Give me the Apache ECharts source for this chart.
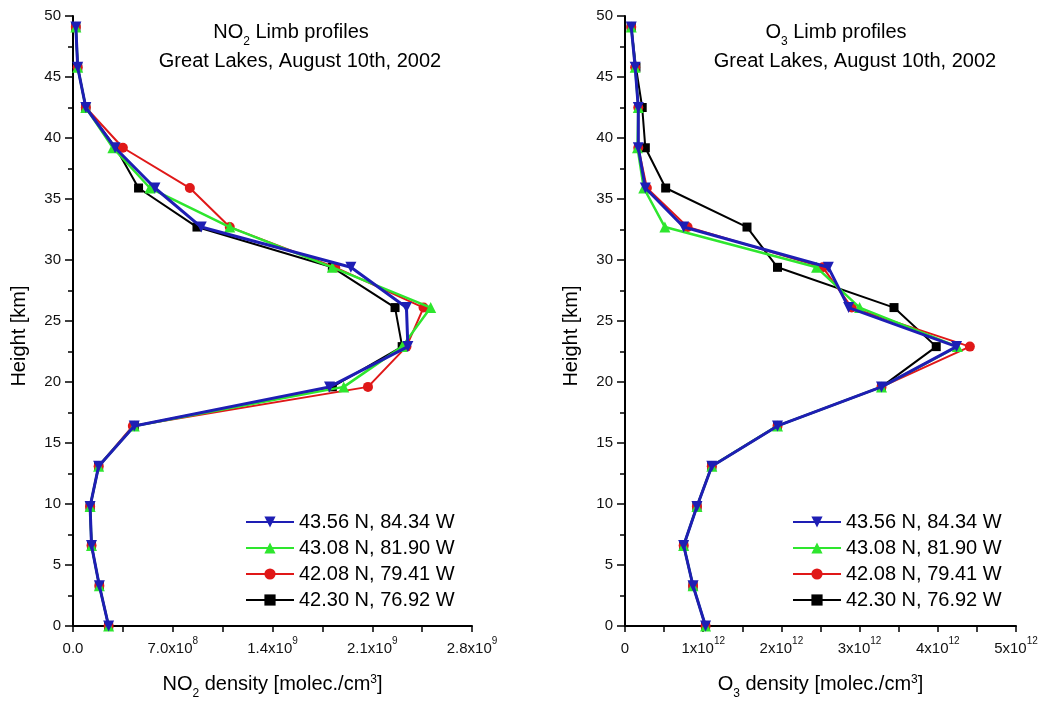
<!DOCTYPE html>
<html><head><meta charset="utf-8">
<script src="https://cdn.jsdelivr.net/npm/echarts@6/dist/echarts.min.js"></script>
<style>html,body{margin:0;padding:0;background:#fff}#c{width:1051px;height:705px}</style>
</head><body><div id="c"></div>
<script>
// ---- data ----
const heights = [0.0, 3.3, 6.6, 9.8, 13.1, 16.4, 19.6, 22.9, 26.1, 29.4, 32.7, 35.9, 39.2, 42.5, 45.8, 49.1];
const stations = ['43.56 N, 84.34 W', '43.08 N, 81.90 W', '42.08 N, 79.41 W', '42.30 N, 76.92 W'];
// NO2 density [molec./cm3]
const no2_4356 = [2.5e8, 1.85e8, 1.3e8, 1.2e8, 1.8e8, 4.3e8, 18.0e8, 23.5e8, 23.4e8, 19.5e8, 9.0e8, 5.75e8, 2.95e8, 0.9e8, 0.33e8, 0.2e8];
const no2_4308 = [2.5e8, 1.85e8, 1.3e8, 1.2e8, 1.8e8, 4.3e8, 19.0e8, 23.1e8, 25.1e8, 18.2e8, 11.0e8, 5.4e8, 2.8e8, 0.9e8, 0.33e8, 0.2e8];
const no2_4208 = [2.5e8, 1.85e8, 1.3e8, 1.2e8, 1.8e8, 4.2e8, 20.7e8, 23.4e8, 24.6e8, 18.4e8, 11.0e8, 8.2e8, 3.5e8, 0.9e8, 0.33e8, 0.2e8];
const no2_4230 = [2.5e8, 1.85e8, 1.3e8, 1.2e8, 1.8e8, 4.3e8, 18.2e8, 23.1e8, 22.6e8, 18.2e8, 8.7e8, 4.6e8, 3.0e8, 0.9e8, 0.33e8, 0.2e8];
// O3 density [molec./cm3]
const o3_4356 = [1.03e12, 0.87e12, 0.75e12, 0.92e12, 1.11e12, 1.95e12, 3.28e12, 4.24e12, 2.86e12, 2.6e12, 0.75e12, 0.26e12, 0.17e12, 0.17e12, 0.13e12, 0.08e12];
const o3_4308 = [1.03e12, 0.87e12, 0.75e12, 0.92e12, 1.11e12, 1.95e12, 3.28e12, 4.25e12, 3.0e12, 2.45e12, 0.51e12, 0.24e12, 0.16e12, 0.17e12, 0.13e12, 0.08e12];
const o3_4208 = [1.03e12, 0.87e12, 0.75e12, 0.92e12, 1.11e12, 1.95e12, 3.28e12, 4.41e12, 2.9e12, 2.53e12, 0.8e12, 0.28e12, 0.17e12, 0.17e12, 0.13e12, 0.08e12];
const o3_4230 = [1.03e12, 0.87e12, 0.75e12, 0.92e12, 1.11e12, 1.95e12, 3.28e12, 3.98e12, 3.44e12, 1.95e12, 1.56e12, 0.52e12, 0.26e12, 0.22e12, 0.14e12, 0.08e12];
// tick values and labels (mantissa, exponent)
const no2Ticks = [0, 7e8, 1.4e9, 2.1e9, 2.8e9];
const no2TickLabels = [['0.0', ''], ['7.0x10', '8'], ['1.4x10', '9'], ['2.1x10', '9'], ['2.8x10', '9']];
const o3Ticks = [0, 1e12, 2e12, 3e12, 4e12, 5e12];
const o3TickLabels = [['0', ''], ['1x10', '12'], ['2x10', '12'], ['3x10', '12'], ['4x10', '12'], ['5x10', '12']];

// ---- styles ----
const FONT = 'Liberation Sans, Arial, sans-serif';
const colors = ['#1e1eb4', '#2ee62e', '#e01818', '#000000'];
const symbols = ['triangle', 'triangle', 'circle', 'rect'];
const symRot = [180, 0, 0, 0];
const symSize = [11, 11, 10, 9];
const lineW = [3, 2.5, 2, 2];

const textRich = {
  t: {fontSize: 20, fontFamily: FONT, color: '#000', lineHeight: 26, verticalAlign: 'top'},
  s: {fontSize: 12, fontFamily: FONT, color: '#000', lineHeight: 12, verticalAlign: 'bottom'},
  p: {fontSize: 12, fontFamily: FONT, color: '#000', lineHeight: 12, verticalAlign: 'top'}
};
const tickRich = {
  n: {fontSize: 15, fontFamily: FONT, color: '#111', lineHeight: 20, verticalAlign: 'bottom'},
  sup: {fontSize: 10, fontFamily: FONT, color: '#111', lineHeight: 10, verticalAlign: 'top'}
};
function tickFmt(ticks, labels) {
  return function (v) {
    let i = ticks.findIndex(t => Math.abs(t - v) < Math.abs(ticks[1]) * 1e-6);
    if (i < 0) return '';
    const [m, e] = labels[i];
    return e ? '{n|' + m + '}{sup|' + e + '}' : '{n|' + m + '}';
  };
}
function xAxisCfg(grid, max, interval, ticks, labels, name) {
  return {
    type: 'value', gridIndex: grid, min: 0, max: max, interval: interval,
    axisLine: {show: true, onZero: false, lineStyle: {color: '#000', width: 2}},
    axisTick: {show: true, length: 6, lineStyle: {color: '#000', width: 1.5}},
    minorTick: {show: true, splitNumber: 2, length: 6, lineStyle: {color: '#000', width: 1.5}},
    splitLine: {show: false},
    axisLabel: {formatter: tickFmt(ticks, labels), rich: tickRich, margin: 10, showMaxLabel: true, showMinLabel: true},
    name: name, nameLocation: 'middle', nameGap: 48,
    nameTextStyle: {rich: textRich}
  };
}
function yAxisCfg(grid) {
  return {
    type: 'value', gridIndex: grid, min: 0, max: 50, interval: 5,
    axisLine: {show: true, onZero: false, lineStyle: {color: '#000', width: 2}},
    axisTick: {show: true, length: 8, lineStyle: {color: '#000', width: 1.5}},
    minorTick: {show: true, splitNumber: 2, length: 5, lineStyle: {color: '#000', width: 1.5}},
    splitLine: {show: false},
    axisLabel: {fontSize: 15, fontFamily: FONT, color: '#111', margin: 12}
  };
}
function zip(vals) { return vals.map((v, i) => [v, heights[i]]); }
const no2Sets = [no2_4356, no2_4308, no2_4208, no2_4230];
const o3Sets = [o3_4356, o3_4308, o3_4208, o3_4230];
const series = [];
[no2Sets, o3Sets].forEach((sets, g) => {
  for (let k = 3; k >= 0; k--) {
    series.push({
      type: 'line', name: stations[k], xAxisIndex: g, yAxisIndex: g,
      data: zip(sets[k]), symbol: symbols[k], symbolSize: symSize[k], symbolRotate: symRot[k],
      lineStyle: {color: colors[k], width: lineW[k]}, itemStyle: {color: colors[k]},
      z: 3 + (3 - k), animation: false
    });
  }
});
function legendCfg(left) {
  return {
    data: stations, orient: 'vertical', left: left, top: 512, padding: 0,
    itemWidth: 48, itemHeight: 14, itemGap: 6, selectedMode: false,
    lineStyle: {width: 2},
    textStyle: {fontSize: 20, fontFamily: FONT, color: '#000'}
  };
}
function titleCfg(text, x, y) {
  return {text: text, left: x, top: y, textAlign: 'center', padding: 0, textStyle: {rich: textRich, fontSize: 20, fontFamily: FONT, color: '#000', fontWeight: 'normal'}};
}
const chart = echarts.init(document.getElementById('c'), null, {renderer: 'canvas'});
chart.setOption({
  animation: false,
  backgroundColor: '#fff',
  title: [
    titleCfg('{t|NO}{s|2}{t| Limb profiles}', 291, 22),
    titleCfg('{t|Great Lakes, August 10th, 2002}', 300, 51),
    titleCfg('{t|O}{s|3}{t| Limb profiles}', 836, 22),
    titleCfg('{t|Great Lakes, August 10th, 2002}', 855, 51)
  ],
  grid: [
    {left: 73, top: 16, width: 399, height: 612},
    {left: 625, top: 16, width: 391, height: 612}
  ],
  xAxis: [
    xAxisCfg(0, 2.8e9, 7e8, no2Ticks, no2TickLabels, '{t|NO}{s|2}{t| density [molec./cm}{p|3}{t|]}'),
    xAxisCfg(1, 5e12, 1e12, o3Ticks, o3TickLabels, '{t|O}{s|3}{t| density [molec./cm}{p|3}{t|]}')
  ],
  yAxis: [yAxisCfg(0), yAxisCfg(1)],
  legend: [legendCfg(245), legendCfg(792)],
  graphic: [
    {type: 'text', x: 19, y: 336, rotation: Math.PI / 2, style: {text: 'Height [km]', fontSize: 20, fontFamily: FONT, fill: '#000', align: 'center', verticalAlign: 'middle'}},
    {type: 'text', x: 571, y: 336, rotation: Math.PI / 2, style: {text: 'Height [km]', fontSize: 20, fontFamily: FONT, fill: '#000', align: 'center', verticalAlign: 'middle'}}
  ],
  series: series
});
</script></body></html>
